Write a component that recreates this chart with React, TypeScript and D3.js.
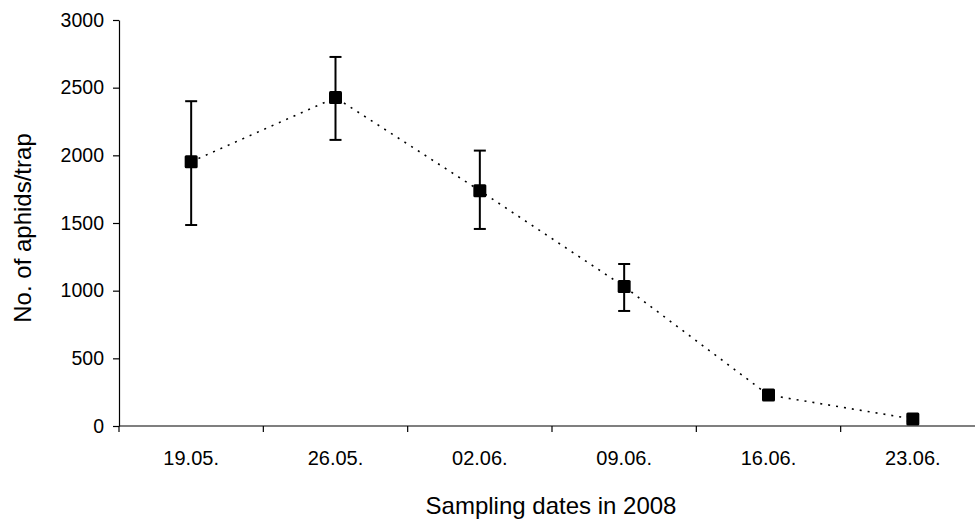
import React from 'react';
import * as d3 from 'd3';

const dates = ['19.05.', '26.05.', '02.06.', '09.06.', '16.06.', '23.06.'];
const means = [1953, 2427, 1739, 1030, 229, 52];
const upper = [2400, 2727, 2035, 1197, 260, 70];
const lower = [1485, 2114, 1456, 850, 200, 35];
const yTicks = [0, 500, 1000, 1500, 2000, 2500, 3000];

const App = () => {
    const svgRef = React.useRef<SVGSVGElement>(null);

    React.useEffect(() => {
        const svg = d3.select(svgRef.current);
        svg.selectAll('*').remove();

        const left = 119, top = 20, bottom = 426;
        const font = 'Arial, "Liberation Sans", sans-serif';

        const x = d3.scaleBand().domain(dates).range([left, 985]);
        const y = d3.scaleLinear().domain([0, 3000]).range([bottom, top]);

        const rows = dates.map((d, i) => ({ d, m: means[i], hi: upper[i], lo: lower[i] }));
        const cx = (d: string) => (x(d) as number) + x.bandwidth() / 2;

        // y axis
        const yAxisG = svg.append('g').attr('transform', `translate(${left},0)`)
            .call(d3.axisLeft(y).tickValues(yTicks).tickFormat(d3.format('d')).tickSize(6).tickSizeOuter(0).tickPadding(9));
        yAxisG.select('.domain').attr('stroke', '#000').attr('stroke-width', 1.2);
        yAxisG.selectAll('.tick line').attr('stroke', '#000').attr('stroke-width', 1.2);
        yAxisG.selectAll('.tick text').attr('font-size', 19.5).attr('font-family', font).attr('fill', '#000');

        // x axis
        const xAxisG = svg.append('g').attr('transform', `translate(0,${bottom})`);
        xAxisG.append('line').attr('x1', left).attr('x2', 985).attr('stroke', '#000').attr('stroke-width', 1.2);
        xAxisG.selectAll('.xt')
            .data(dates.concat(['end']))
            .join('line')
            .attr('class', 'xt')
            .attr('x1', (d, i) => left + i * x.bandwidth())
            .attr('x2', (d, i) => left + i * x.bandwidth())
            .attr('y1', 0).attr('y2', 6)
            .attr('stroke', '#000').attr('stroke-width', 1.2);
        xAxisG.selectAll('.xl')
            .data(dates)
            .join('text')
            .attr('class', 'xl')
            .attr('x', d => cx(d))
            .attr('y', 39)
            .attr('text-anchor', 'middle')
            .attr('font-size', 20).attr('font-family', font)
            .text(d => d);

        // titles
        svg.append('text')
            .attr('transform', `translate(31,228) rotate(-90)`)
            .attr('text-anchor', 'middle')
            .attr('font-size', 24).attr('font-family', font)
            .text('No. of aphids/trap');
        svg.append('text')
            .attr('x', 551).attr('y', 514)
            .attr('text-anchor', 'middle')
            .attr('font-size', 24).attr('font-family', font)
            .text('Sampling dates in 2008');

        // dotted line
        const line = d3.line<typeof rows[0]>().x(r => cx(r.d)).y(r => y(r.m));
        svg.append('path')
            .datum(rows)
            .attr('d', line)
            .attr('fill', 'none')
            .attr('stroke', '#000')
            .attr('stroke-width', 1.6)
            .attr('stroke-dasharray', '2,6');

        // error bars
        const eb = svg.append('g').attr('stroke', '#000').attr('stroke-width', 2);
        eb.selectAll('.v').data(rows).join('line').attr('class', 'v')
            .attr('x1', r => cx(r.d)).attr('x2', r => cx(r.d))
            .attr('y1', r => y(r.hi)).attr('y2', r => y(r.lo));
        eb.selectAll('.ct').data(rows).join('line').attr('class', 'ct')
            .attr('x1', r => cx(r.d) - 6).attr('x2', r => cx(r.d) + 6)
            .attr('y1', r => y(r.hi)).attr('y2', r => y(r.hi));
        eb.selectAll('.cb').data(rows).join('line').attr('class', 'cb')
            .attr('x1', r => cx(r.d) - 6).attr('x2', r => cx(r.d) + 6)
            .attr('y1', r => y(r.lo)).attr('y2', r => y(r.lo));

        // markers
        svg.selectAll('.mk').data(rows).join('rect').attr('class', 'mk')
            .attr('x', r => cx(r.d) - 6.5).attr('y', r => y(r.m) - 6.5)
            .attr('width', 13).attr('height', 13)
            .attr('rx', 1.5)
            .attr('fill', '#000');
    }, []);

    return (
        <svg ref={svgRef} width={975} height={521} style={{ position: 'absolute', left: 0, top: 0, background: '#fff' }}></svg>
    );
};

export default App;
